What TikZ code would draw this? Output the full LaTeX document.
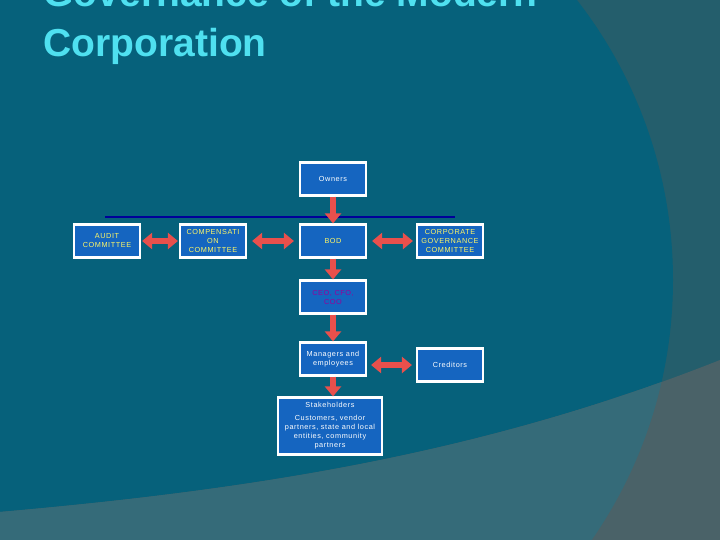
\documentclass[tikz,border=0pt]{standalone}
\usepackage{fontspec}
\setmainfont{Liberation Sans}
\newfontfamily\boxf[LetterSpace=8]{Liberation Sans}
\usetikzlibrary{arrows.meta}
\definecolor{bgd}{HTML}{06617B}
\definecolor{bgo}{HTML}{245E6C}
\definecolor{bbi}{HTML}{356B79}
\definecolor{bbo}{HTML}{4A6268}
\definecolor{boxb}{HTML}{1565C0}
\definecolor{arr}{HTML}{E8504C}
\definecolor{ttl}{HTML}{4FE0F0}
\begin{document}
\begin{tikzpicture}[x=1pt,y=-1pt,
 bx/.style={draw=white,line width=2.2pt,fill=boxb,minimum width=66pt,minimum height=33pt,inner sep=1pt,align=center,font=\boxf\fontsize{7.3}{9}\selectfont,text=white},
 ar/.style={draw=arr,line width=5.5pt,-{Triangle[length=10pt,width=16pt]}},
 dar/.style={draw=arr,line width=5.5pt,{Triangle[length=10pt,width=16pt]}-{Triangle[length=10pt,width=16pt]}}]
\useasboundingbox (0,0) rectangle (720,540);
\fill[bgo] (0,0) rectangle (720,540);
\fill[bgd] (217,280) circle[radius=456];
\begin{scope}
\clip (0,512) .. controls (250,490) and (480,455) .. (720,360) -- (720,540) -- (0,540) -- cycle;
\fill[bbo] (0,0) rectangle (720,540);
\fill[bbi] (217,280) circle[radius=456];
\end{scope}
\node[anchor=base west,align=left,text=ttl,font=\bfseries\fontsize{39}{50}\selectfont] (t) at (40,57) {Governance of the Modern\\Corporation};
\draw[blue!60!black,line width=2pt] (105,217) -- (455,217);
\node[bx] (own) at (333,179) {Owners};
\node[bx,text=yellow!60!white] (aud) at (107,241) {AUDIT\\COMMITTEE};
\node[bx,text=yellow!60!white] (comp) at (213,241) {COMPENSATI\\ON\\COMMITTEE};
\node[bx,text=yellow!60!white] (bod) at (333,241) {BOD};
\node[bx,text=yellow!60!white,inner sep=0pt] (cgc) at (450,241) {CORPORATE\\GOVERNANCE\\COMMITTEE};
\node[bx,text=violet!80!magenta] (ceo) at (333,297) {CEO, CFO,\\COO};
\node[bx] (man) at (333,359) {Managers and\\employees};
\node[bx] (cred) at (450,365) {Creditors};
\node[bx,minimum width=104pt,minimum height=57pt,inner sep=0pt] (stk) at (330,426) {Stakeholders\\[4pt]Customers, vendor\\partners, state and local\\entities, community\\partners};
\draw[ar] (own) -- (bod);
\draw[ar] (bod) -- (ceo);
\draw[ar] (ceo) -- (man);
\draw[ar] (man.south) -- (man.south|-stk.north);
\draw[dar] ([xshift=1pt]aud.east) -- ([xshift=-1pt]comp.west);
\draw[dar] ([xshift=5pt]comp.east) -- ([xshift=-5pt]bod.west);
\draw[dar] ([xshift=5pt]bod.east) -- ([xshift=-3pt]cgc.west);
\draw[dar] ([xshift=4pt]man.east|-cred.west) -- ([xshift=-4pt]cred.west);
\end{tikzpicture}
\end{document}
